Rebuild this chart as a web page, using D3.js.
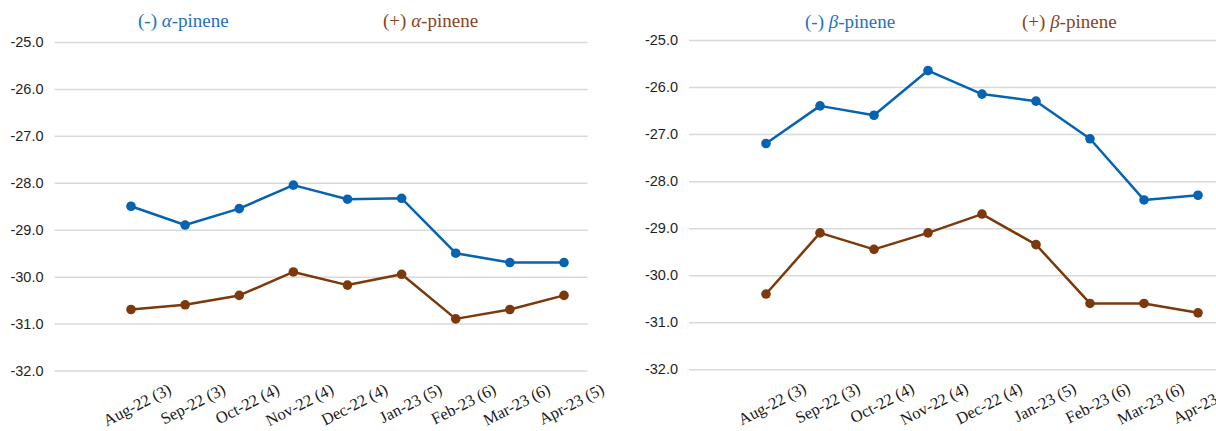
<!DOCTYPE html>
<html>
<head>
<meta charset="utf-8">
<script src="https://cdn.jsdelivr.net/npm/d3@7"></script>
<style>
  html, body { margin: 0; padding: 0; background: #fff; }
  svg { display: block; }
</style>
</head>
<body>
<svg id="chart" width="1216" height="431"></svg>
<script>
// ---- data ----
const categories = ["Aug-22 (3)", "Sep-22 (3)", "Oct-22 (4)", "Nov-22 (4)", "Dec-22 (4)",
                    "Jan-23 (5)", "Feb-23 (6)", "Mar-23 (6)", "Apr-23 (5)"];
const alphaMinus = [-28.5, -28.9, -28.55, -28.05, -28.35, -28.33, -29.5, -29.7, -29.7];
const alphaPlus  = [-30.7, -30.6, -30.4, -29.9, -30.18, -29.95, -30.9, -30.7, -30.4];
const betaMinus  = [-27.2, -26.4, -26.6, -25.65, -26.15, -26.3, -27.1, -28.4, -28.3];
const betaPlus   = [-30.4, -29.1, -29.45, -29.1, -28.7, -29.35, -30.6, -30.6, -30.8];
const yTicks = [-25, -26, -27, -28, -29, -30, -31, -32];
const yDomain = [-32, -25];

const blue = "#0663B2", brown = "#7B390C";
const blueText = "#2272BE", brownText = "#8A4419";

const svg = d3.select("#chart");

function panel(opts) {
  const x = d3.scalePoint().domain(categories).range(opts.xRange);
  const y = d3.scaleLinear().domain(yDomain).range(opts.yRange);

  // gridlines + y labels
  const ya = svg.append("g")
    .attr("transform", `translate(${opts.gridX0},0)`)
    .call(d3.axisLeft(y).tickValues(yTicks)
      .tickSize(-(opts.gridX1 - opts.gridX0))
      .tickPadding(11)
      .tickFormat(d => d.toFixed(1)));
  ya.select(".domain").remove();
  ya.selectAll(".tick line").attr("stroke", "#d9d9d9").attr("stroke-width", 1.5);
  ya.selectAll(".tick text")
    .attr("font-family", "'Liberation Sans', Arial, sans-serif")
    .attr("font-size", 14.5).attr("fill", "#1f1f1f");

  // x labels
  const axisY = opts.yRange[0];
  const xa = svg.append("g")
    .attr("transform", `translate(0,${axisY})`)
    .call(d3.axisBottom(x).tickSize(0));
  xa.select(".domain").remove();
  xa.selectAll(".tick text")
    .attr("font-family", "'Liberation Serif', 'Times New Roman', serif")
    .attr("font-size", 16.5).attr("fill", "#1a1a1a")
    .attr("text-anchor", "end")
    .attr("y", 0).attr("dy", 0)
    .attr("transform", `translate(41,${opts.labelY - axisY}) rotate(-27)`);

  // series
  const series = [
    { values: opts.minus, color: blue },
    { values: opts.plus, color: brown }
  ];
  const line = d3.line().x((d, i) => x(categories[i])).y(d => y(d));
  series.forEach(s => {
    svg.append("path").datum(s.values)
      .attr("d", line).attr("fill", "none")
      .attr("stroke", s.color).attr("stroke-width", 2.5)
      .attr("stroke-linejoin", "round");
    svg.append("g").selectAll("circle").data(s.values).join("circle")
      .attr("cx", (d, i) => x(categories[i])).attr("cy", d => y(d))
      .attr("r", 4.8).attr("fill", s.color);
  });

  // legend titles
  const tfont = "'Liberation Serif', 'Times New Roman', serif";
  opts.titles.forEach(t => {
    const tx = svg.append("text")
      .attr("x", t.x).attr("y", opts.titleY)
      .attr("font-family", tfont).attr("font-size", 19)
      .attr("fill", t.color);
    tx.append("tspan").text(t.prefix + " ");
    tx.append("tspan").attr("font-style", "italic").text(t.greek);
    tx.append("tspan").text("-pinene");
  });
}

panel({
  xRange: [131, 564], yRange: [370.5, 42], gridX0: 54.5, gridX1: 587.5,
  labelY: 393, titleY: 27,
  minus: alphaMinus, plus: alphaPlus,
  titles: [
    { x: 138, prefix: "(-)", greek: "α", color: blueText },
    { x: 383, prefix: "(+)", greek: "α", color: brownText }
  ]
});

panel({
  xRange: [766, 1198], yRange: [369.3, 40], gridX0: 689, gridX1: 1222,
  labelY: 392, titleY: 28,
  minus: betaMinus, plus: betaPlus,
  titles: [
    { x: 805, prefix: "(-)", greek: "β", color: blueText },
    { x: 1022, prefix: "(+)", greek: "β", color: brownText }
  ]
});
</script>
</body>
</html>
